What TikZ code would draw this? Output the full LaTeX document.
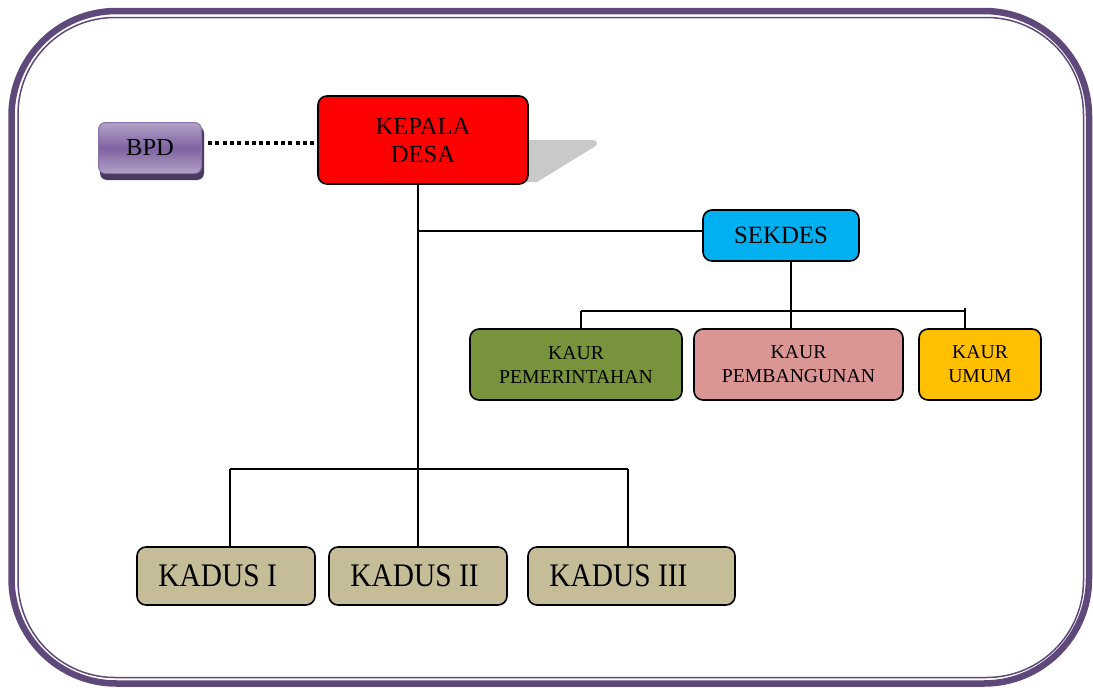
\documentclass[tikz,border=0pt]{standalone}
\usepackage{fontspec}
\setmainfont{Liberation Serif}
\definecolor{framepurple}{HTML}{5F497A}
\definecolor{bpdlight}{HTML}{B3A2C7}
\definecolor{bpdmid}{HTML}{7E62A1}
\definecolor{bpdshadow}{HTML}{4A3A60}
\definecolor{bpdborder}{HTML}{8A70AA}
\definecolor{kepalared}{HTML}{FF0000}
\definecolor{sekdescyan}{HTML}{00B0F0}
\definecolor{kaurgreen}{HTML}{77933C}
\definecolor{kaurpink}{HTML}{D99694}
\definecolor{kauryellow}{HTML}{FFC000}
\definecolor{kadustan}{HTML}{C4BD97}
\definecolor{shadowgrey}{HTML}{C9C9C9}
\newcommand{\kadustxt}[1]{\scalebox{1}[1.12]{#1}}
\tikzset{
  orgbox/.style={draw=black, line width=1.6pt, rounded corners=9pt, inner sep=0pt, align=center},
  conn/.style={draw=black, line width=1.4pt},
  kaurtext/.style={font=\fontsize{19.7}{24}\selectfont},
  kadusbox/.style={orgbox, fill=kadustan, minimum height=58pt},
  kadustext/.style={font=\fontsize{29.4}{32}\selectfont, anchor=west, inner sep=0pt}
}
\begin{document}
\begin{tikzpicture}[x=1pt,y=-1pt]
\useasboundingbox (0,0) rectangle (1093,688);
% frame
\draw[framepurple, line width=6.5pt, rounded corners=105pt] (11.5,11) rectangle (1089,683.5);
\draw[framepurple, line width=1.5pt, rounded corners=97pt] (18,17.5) rectangle (1083.5,677.5);
% shadow of KEPALA DESA
\fill[shadowgrey] (520,140) -- (591,140) .. controls (598,140) and (599,144) .. (594,147) -- (537,182) -- (520,182) -- cycle;
% nodes
\node[orgbox, fill=kepalared, minimum width=210pt, minimum height=88pt,
      font=\fontsize{24.6}{28}\selectfont] (kepala) at (423,140) {KEPALA\\DESA};
\fill[bpdshadow, rounded corners=7pt] (100,126) rectangle (204,180);
\node[draw=bpdborder, line width=1pt, rounded corners=7pt, top color=bpdlight, bottom color=bpdlight, middle color=bpdmid,
      minimum width=103pt, minimum height=51pt, inner sep=0pt, font=\fontsize{24.5}{28}\selectfont] (bpd) at (150,148) {BPD};
\node[orgbox, fill=sekdescyan, minimum width=156pt, minimum height=51pt,
      font=\fontsize{24.8}{28}\selectfont] (sekdes) at (781,235.5) {SEKDES};
\node[orgbox, fill=kaurgreen, minimum width=212pt, minimum height=71pt, kaurtext] (kaur1) at (576,364.5) {KAUR\\PEMERINTAHAN};
\node[orgbox, fill=kaurpink, minimum width=209pt, minimum height=71pt, kaurtext] (kaur2) at (798.5,364.5) {KAUR\\PEMBANGUNAN};
\node[orgbox, fill=kauryellow, minimum width=122pt, minimum height=71pt, kaurtext] (kaur3) at (980,364.5) {KAUR\\UMUM};
\node[kadusbox, minimum width=178pt] (kadus1) at (226,576) {};
\node[kadusbox, minimum width=178pt] (kadus2) at (418,576) {};
\node[kadusbox, minimum width=207pt] (kadus3) at (631.5,576) {};
\node[kadustext] (t1) at ([xshift=22pt]kadus1.west) {\kadustxt{KADUS I}};
\node[kadustext] (t2) at ([xshift=22pt]kadus2.west) {\kadustxt{KADUS II}};
\node[kadustext] (t3) at ([xshift=22pt]kadus3.west) {\kadustxt{KADUS III}};
% junction coordinates
\coordinate (dotA) at (208,143);
\coordinate (jS) at (418,231);
\coordinate (sv) at (791,311);
\coordinate (kL) at (581,311);
\coordinate (kR) at (965,311);
\coordinate (kRt) at (965,308);
\coordinate (dL) at (230,469);
\coordinate (dR) at (628,469);
% connectors
\draw[line width=4pt, dash pattern=on 4pt off 3.3pt] (dotA) -- (dotA -| kepala.west);
\draw[conn] (kadus2.north |- kepala.south) -- (kadus2.north);
\draw[conn] (jS) -- (jS -| sekdes.west);
\draw[conn] (sv |- sekdes.south) -- (sv |- kaur2.north);
\draw[conn] (kL) -- (kR);
\draw[conn] (kL) -- (kL |- kaur1.north);
\draw[conn] (kRt) -- (kRt |- kaur3.north);
\draw[conn] (dL) -- (dR);
\draw[conn] (dL) -- (dL |- kadus1.north);
\draw[conn] (dR) -- (dR |- kadus3.north);
\end{tikzpicture}
\end{document}
